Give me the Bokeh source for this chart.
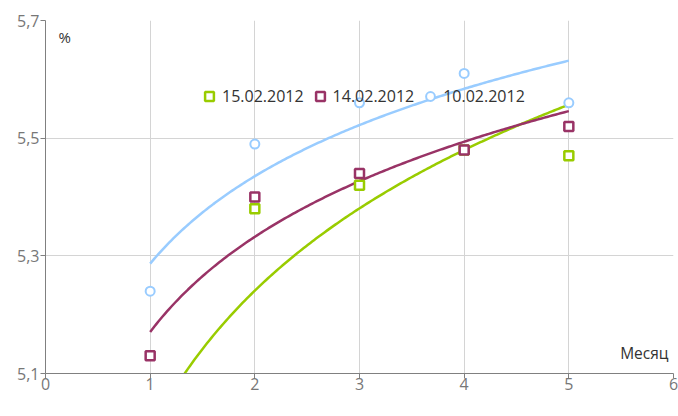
import numpy as np
from bokeh.plotting import figure
from bokeh.models import FixedTicker, CustomJSTickFormatter, Legend, LegendItem, Label, Range1d
from bokeh.embed import file_html
from bokeh.resources import INLINE

months = [1, 2, 3, 4, 5]
s15 = [4.91, 5.38, 5.42, 5.48, 5.47]
s14 = [5.13, 5.40, 5.44, 5.48, 5.52]
s10 = [5.24, 5.49, 5.56, 5.61, 5.56]
names = ["15.02.2012", "14.02.2012", "10.02.2012"]
colors = ["#99cc00", "#993366", "#99ccff"]
x_ticks = [0, 1, 2, 3, 4, 5, 6]
y_ticks = [5.1, 5.3, 5.5, 5.7]

FONT = "Open Sans"

p = figure(width=678, height=408, output_backend="svg", toolbar_location=None,
           x_range=Range1d(0, 6), y_range=Range1d(5.1, 5.7),
           min_border_left=45, min_border_right=5, min_border_top=20, min_border_bottom=35)
p.outline_line_color = None
p.background_fill_color = "white"

for ax in (p.xaxis[0], p.yaxis[0]):
    ax.axis_line_color = "#808080"
    ax.axis_line_width = 1
    ax.major_tick_line_color = "#808080"
    ax.major_tick_out = 5
    ax.major_tick_in = 0
    ax.minor_tick_line_color = None
    ax.major_label_text_font = FONT
    ax.major_label_text_font_size = "16px"
    ax.major_label_text_color = "#777777"

p.xaxis.ticker = FixedTicker(ticks=x_ticks)
p.yaxis.ticker = FixedTicker(ticks=y_ticks)
p.yaxis.formatter = CustomJSTickFormatter(code="return tick.toFixed(1).replace('.', ',');")
p.xaxis.major_label_standoff = -1
p.yaxis.major_label_standoff = 1

p.xgrid.grid_line_color = "#d4d4d4"
p.ygrid.grid_line_color = "#d4d4d4"

xs = np.linspace(1, 5, 200)
series = [s15, s14, s10]
items = []
for vals, name, col in zip(series, names, colors):
    b, a = np.polyfit(np.log(months), vals, 1)
    p.line(xs, a + b * np.log(xs), line_color=col, line_width=2.5)

for vals, name, col in zip(series, names, colors):
    if name == "10.02.2012":
        r = p.scatter(months, vals, marker="circle", size=9, fill_color="white",
                      line_color=col, line_width=2)
    else:
        r = p.scatter(months, vals, marker="square", size=9, fill_color="white",
                      line_color=col, line_width=2.5)
    items.append(LegendItem(label=name, renderers=[r]))

legend = Legend(items=items, orientation="horizontal", location=(153, 266),
                background_fill_alpha=0, border_line_color=None,
                label_text_font=FONT, label_text_font_size="16px", label_text_color="#333333",
                glyph_width=22, glyph_height=22, spacing=5, label_standoff=2, padding=0, margin=0)
p.add_layout(legend, "center")

p.add_layout(Label(x=13, y=327, x_units="screen", y_units="screen", text="%",
                   text_font=FONT, text_font_size="15px", text_color="#333333"))
p.add_layout(Label(x=623, y=10, x_units="screen", y_units="screen", text="Месяц",
                   text_font=FONT, text_font_size="15.5px", text_color="#333333",
                   text_align="right"))

open("out.html", "w").write(file_html(p, INLINE))
